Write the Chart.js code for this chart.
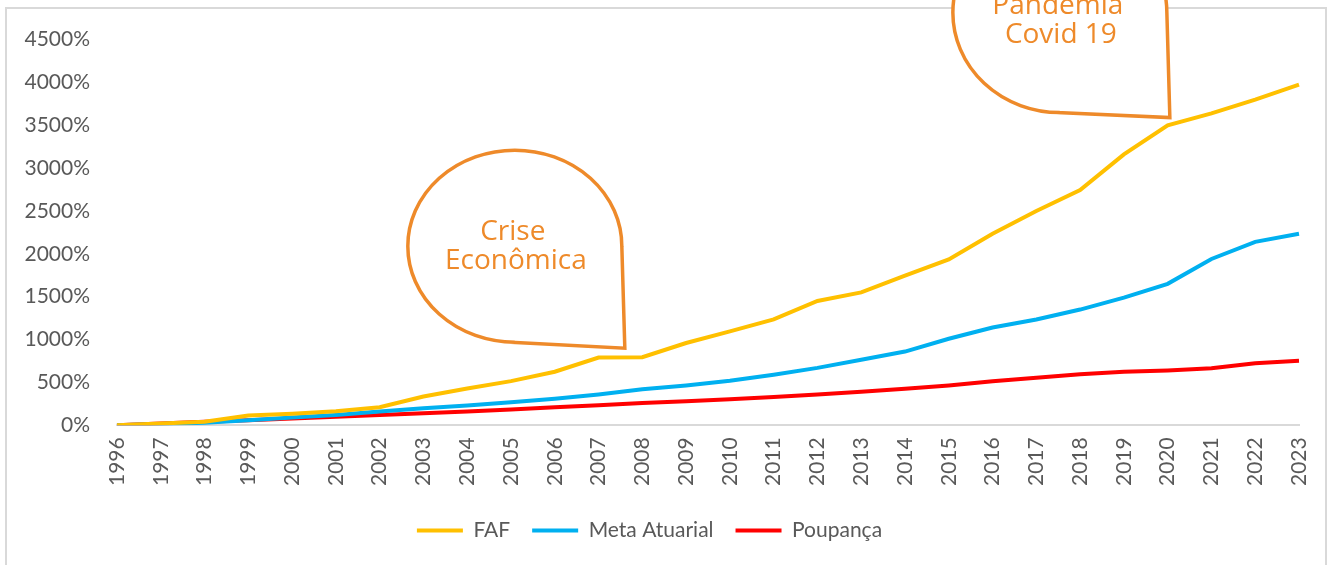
<!DOCTYPE html>
<html>
<head>
<meta charset="utf-8">
<script src="https://cdn.jsdelivr.net/npm/chart.js@4/dist/chart.umd.min.js"></script>
<style>
  html, body { margin: 0; padding: 0; background: #fff; }
  #wrap { width: 1330px; height: 565px; position: relative; }
</style>
</head>
<body>
<div id="wrap"><canvas id="grafico"></canvas></div>
<script>
// dados
const anos = ['1996', '1997', '1998', '1999', '2000', '2001', '2002', '2003', '2004', '2005',
  '2006', '2007', '2008', '2009', '2010', '2011', '2012', '2013', '2014', '2015',
  '2016', '2017', '2018', '2019', '2020', '2021', '2022', '2023'];
const faf = [0, 20, 40, 115, 135, 165, 210, 335, 430, 515,
  625, 790, 795, 960, 1095, 1235, 1450, 1550, 1745, 1935,
  2235, 2500, 2745, 3160, 3500, 3640, 3800, 3975];
const metaAtuarial = [0, 15, 30, 60, 90, 120, 160, 200, 230, 270,
  310, 360, 420, 465, 520, 590, 670, 765, 860, 1010,
  1140, 1235, 1350, 1490, 1650, 1940, 2140, 2235];
const poupanca = [0, 20, 40, 60, 80, 100, 120, 140, 160, 185,
  210, 235, 260, 280, 305, 330, 360, 390, 425, 465,
  515, 555, 595, 625, 640, 665, 725, 752];
const nomes = ['FAF', 'Meta Atuarial', 'Poupança'];
const cores = ['#FFC000', '#00B0F0', '#FF0000'];

const laranja = '#EE8A2A';

// balões de anotação: ponta ancorada no eixo (índice do ano, valor)
const baloes = [
  { textos: ['Crise', 'Econômica'], ponta: [11.6, 900], dx: -110, dy: -102, rx: 107, ry: 96, dxFim: -114, dyFim: -6, textoDy: -6 },
  { textos: ['Pandemia', 'Covid 19'], ponta: [24.05, 3590], dx: -110, dy: -105, rx: 107, ry: 100, dxFim: -113, dyFim: -5, textoDy: 1 }
];

const moldura = {
  id: 'moldura',
  beforeDraw(chart) {
    const ctx = chart.ctx;
    ctx.save();
    ctx.fillStyle = '#fff';
    ctx.fillRect(0, 0, chart.width, chart.height);
    ctx.strokeStyle = '#D9D9D9';
    ctx.lineWidth = 2;
    ctx.strokeRect(6, 8, 1320, 600);
    ctx.restore();
  },
  afterDraw(chart) {
    const ctx = chart.ctx;
    const xs = chart.scales.x, ys = chart.scales.y;
    baloes.forEach(b => {
      const px = xs.getPixelForValue(b.ponta[0]);
      const py = ys.getPixelForValue(b.ponta[1]);
      const cx = px + b.dx, cy = py + b.dy;
      ctx.save();
      ctx.beginPath();
      ctx.ellipse(cx, cy, b.rx, b.ry, 0, Math.PI / 2, Math.PI * 2, false);
      ctx.lineTo(px, py);
      ctx.lineTo(px + b.dxFim, py + b.dyFim);
      ctx.closePath();
      ctx.fillStyle = '#fff';
      ctx.fill();
      ctx.strokeStyle = laranja;
      ctx.lineWidth = 3.5;
      ctx.lineJoin = 'miter';
      ctx.stroke();
      ctx.fillStyle = laranja;
      ctx.font = '400 28px "Open Sans"';
      ctx.textAlign = 'center';
      ctx.textBaseline = 'alphabetic';
      ctx.fillText(b.textos[0], cx - 2, cy + b.textoDy);
      ctx.fillText(b.textos[1], cx + 1, cy + b.textoDy + 29);
      ctx.restore();
    });
  }
};

new Chart(document.getElementById('grafico'), {
  type: 'line',
  data: {
    labels: anos,
    datasets: [faf, metaAtuarial, poupanca].map((serie, i) => ({
      label: nomes[i],
      data: serie,
      borderColor: cores[i],
      backgroundColor: cores[i],
      borderWidth: 4,
      pointRadius: 0,
      tension: 0
    }))
  },
  options: {
    responsive: true,
    maintainAspectRatio: false,
    animation: false,
    layout: { padding: { top: 33, right: 31, bottom: 14, left: 0 } },
    plugins: {
      legend: {
        position: 'bottom',
        labels: {
          usePointStyle: true,
          pointStyle: 'line',
          pointStyleWidth: 46,
          padding: 22,
          color: '#595959',
          font: { family: 'Lato', size: 21 }
        }
      },
      tooltip: { enabled: false }
    },
    scales: {
      x: {
        offset: false,
        grid: { display: false, drawTicks: false },
        border: { display: true, color: '#D9D9D9', width: 2 },
        afterFit(scale) { scale.paddingLeft = 0; scale.paddingRight = 0; },
        ticks: {
          minRotation: 90,
          maxRotation: 90,
          padding: 12,
          autoSkip: false,
          color: '#595959',
          font: { family: 'Lato', size: 21 }
        }
      },
      y: {
        min: 0,
        max: 4500,
        grid: { display: false, drawTicks: false },
        border: { display: false },
        afterFit(scale) { scale.width = 117; },
        ticks: {
          stepSize: 500,
          padding: 27,
          color: '#595959',
          font: { family: 'Lato', size: 21 },
          callback: v => v + '%'
        }
      }
    }
  },
  plugins: [moldura]
});
</script>
</body>
</html>
